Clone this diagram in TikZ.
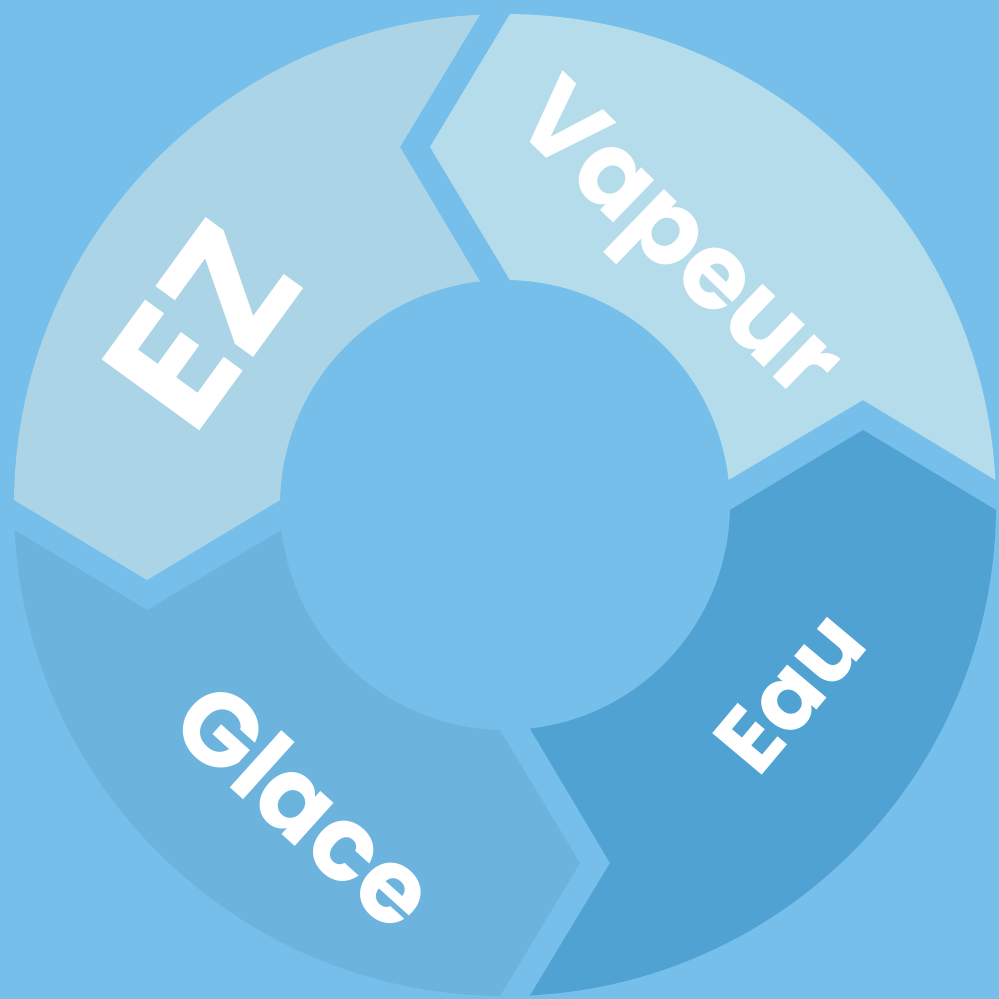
\documentclass[tikz,border=0pt]{standalone}
\usepackage{fontspec}
\setmainfont{Poppins}
\newcommand\cycleseg{(5,490.97) arc[start angle=89.42, end angle=2.92, radius=491] -- (358,105) -- (223.6,25) arc[start angle=6.38, end angle=88.73, radius=225] -- (-75,358) -- cycle}
\begin{document}
\begin{tikzpicture}[x=1pt,y=1pt,
  lbl/.style={text=white, inner sep=0pt, font=\bfseries\fontsize{#1}{#1}\selectfont}]
\definecolor{bgblue}{HTML}{77BFEB}
\definecolor{vapcol}{HTML}{B5DCEA}
\definecolor{ezcol}{HTML}{ABD5E7}
\definecolor{eaucol}{HTML}{4FA2D1}
\definecolor{glacecol}{HTML}{6CB4DD}
\fill[bgblue] (-505,-494) rectangle (494,505);
\useasboundingbox (-505,-494) rectangle (494,505);
\begin{scope}[rotate=0]\fill[vapcol] \cycleseg;\end{scope}
\begin{scope}[rotate=-90]\fill[eaucol] \cycleseg;\end{scope}
\begin{scope}[rotate=-180]\fill[glacecol] \cycleseg;\end{scope}
\begin{scope}[rotate=-270]\fill[ezcol] \cycleseg;\end{scope}
\node[lbl=106, rotate=-44] (vapeur) at (167,258) {Vapeur};
\node[lbl=172, rotate=54] (ez) at (-303,180) {EZ};
\node[lbl=92, rotate=50] (eau) at (285,-187) {Eau};
\node[lbl=104, rotate=-42] (glace) at (-199,-300) {Glace};
\end{tikzpicture}
\end{document}
